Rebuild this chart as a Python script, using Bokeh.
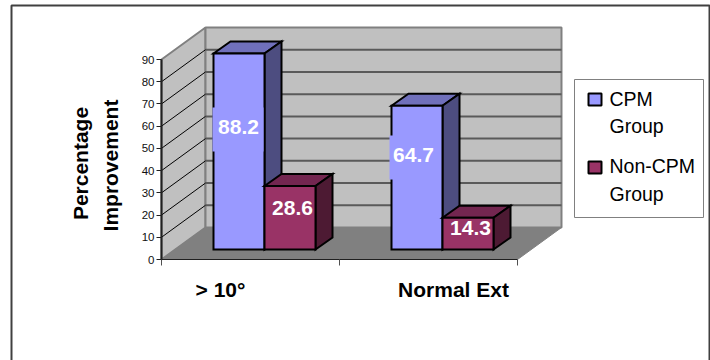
from bokeh.core.properties import value
from bokeh.embed import file_html
from bokeh.models import FixedTicker, LinearAxis, Range1d
from bokeh.plotting import figure
from bokeh.resources import INLINE
import math

categories = ["> 10°", "Normal Ext"]
series_names = ["CPM Group", "Non-CPM Group"]
cpm_values = [88.2, 64.7]
non_cpm_values = [28.6, 14.3]
y_ticks = [0, 10, 20, 30, 40, 50, 60, 70, 80, 90]

# Screen scale: one category is 178 px wide, one percent is 200/90 px tall.
X_PX, Y_PX = 178.0, 200.0 / 90.0
ORIGIN_X, ORIGIN_Y = 161.0, 259.0
W, H = 710, 360


def sx(px):
    return (px - ORIGIN_X) / X_PX


def sy(py):
    return (ORIGIN_Y - py) / Y_PX


p = figure(width=W, height=H, output_backend="svg", toolbar_location=None,
           x_range=Range1d(sx(0), sx(W)), y_range=Range1d(sy(H), sy(0)),
           x_axis_type=None, y_axis_type=None, min_border=0,
           outline_line_color=None, background_fill_color="white",
           border_fill_color="white")
p.grid.visible = False

FONT = value("Liberation Sans")

# Outer chart border, open at the bottom edge.
p.line([sx(11), sx(11), sx(709), sx(709)], [sy(362), sy(5), sy(5), sy(362)],
       line_color="#404040", line_width=2)

# Projected box: walls and floor.
dx, dy = 44 / X_PX, 32 / Y_PX
top = y_ticks[-1]
n = len(categories)
p.patch([0, dx, dx, 0], [0, dy, top + dy, top], fill_color="#C0C0C0",
        line_color="#808080", line_width=2)
p.patch([dx, n + dx, n + dx, dx], [dy, dy, top + dy, top + dy],
        fill_color="#C0C0C0", line_color="#808080", line_width=2)
p.patch([0, n, n + dx, dx], [0, 0, dy, dy], fill_color="#808080",
        line_color="#808080", line_width=1)

grid = y_ticks[1:-1]
p.segment([dx] * len(grid), [t + dy for t in grid], [n + dx] * len(grid),
          [t + dy for t in grid], line_color="#5A5A5A", line_width=2)
p.segment([0] * len(grid), grid, [dx] * len(grid), [t + dy for t in grid],
          line_color="#000000", line_width=1)

# Bars: front face plus projected top and side.
START, BAR_W = 52 / X_PX, 51 / X_PX
bdx, bdy = 17 / X_PX, 12 / Y_PX
base = 10 / Y_PX
styles = [("#9999FF", "#7070BB", "#4D4D80"), ("#993366", "#732650", "#4D1A33")]
OUT = dict(line_color="black", line_width=2, line_join="miter")

for g in range(n):
    for s, vals in enumerate([cpm_values, non_cpm_values]):
        front, upper, side = styles[s]
        x0 = g + START + s * BAR_W
        x1 = x0 + BAR_W
        y1 = vals[g] + base
        p.patch([x0, x0 + bdx, x1 + bdx, x1], [y1, y1 + bdy, y1 + bdy, y1],
                fill_color=upper, **OUT)
        p.patch([x1, x1 + bdx, x1 + bdx, x1], [base, base + bdy, y1 + bdy, y1],
                fill_color=side, **OUT)
        p.quad(left=x0, right=x1, bottom=base, top=y1, fill_color=front, **OUT)

# Value labels sit on a patch of the bar colour.
label_centres = [(238, 126, 212, 263, 107, 151), (413, 154, 389, 440, 135, 179)]
for (cx, cy, l, r, t, b), v in zip(label_centres, cpm_values):
    p.quad(left=sx(l), right=sx(r), top=sy(t), bottom=sy(b),
           fill_color="#9999FF", line_color=None)
    p.text([sx(cx)], [sy(cy)], text=[f"{v}"], text_color="white",
           text_font=FONT, text_font_style="bold", text_font_size="21px",
           text_align="center", text_baseline="middle")
for (cx, cy), v in zip([(292, 207), (470, 227)], non_cpm_values):
    p.text([sx(cx)], [sy(cy)], text=[f"{v}"], text_color="white",
           text_font=FONT, text_font_style="bold", text_font_size="21px",
           text_align="center", text_baseline="middle")

# Value axis on the front-left edge.
yaxis = LinearAxis(fixed_location=0, ticker=FixedTicker(ticks=y_ticks),
                   bounds=(0, top), axis_line_color="#202020", axis_line_width=2,
                   major_tick_line_color="#202020", major_tick_line_width=1,
                   major_tick_in=0, major_tick_out=5, minor_tick_line_color=None,
                   major_label_text_font="Liberation Sans",
                   major_label_text_font_size="11.5px",
                   major_label_text_color="#101010", major_label_standoff=2)
p.add_layout(yaxis, "left")

# Category axis: a line with ticks at the category boundaries; its names are drawn below.
xaxis = LinearAxis(fixed_location=0, ticker=FixedTicker(ticks=list(range(n + 1))),
                   bounds=(0, n), axis_line_color="#202020", axis_line_width=1,
                   major_tick_line_color="#505050", major_tick_line_width=1,
                   major_tick_in=0, major_tick_out=6, minor_tick_line_color=None,
                   major_label_overrides={i: "" for i in range(n + 1)})
p.add_layout(xaxis, "below")

for px, name in zip([220, 453], categories):
    p.text([sx(px)], [sy(289)], text=[name], text_color="black", text_font=FONT,
           text_font_style="bold", text_font_size="21px", text_align="center",
           text_baseline="middle")

# Axis title on two rotated lines.
for px, line, py in [(80, "Percentage", 163), (110, "Improvement", 165)]:
    p.text([sx(px)], [sy(py)], text=[line], angle=math.pi / 2, text_color="black",
           text_font=FONT, text_font_style="bold", text_font_size="21px",
           text_align="center", text_baseline="middle")

# Legend box.
p.quad(left=sx(574), right=sx(703), top=sy(79), bottom=sy(217), fill_color="white",
       line_color="#808080", line_width=1)
for (sw_top, colour), lines, ys in zip(
        [(93, styles[0][0]), (161, styles[1][0])],
        [("CPM", "Group"), ("Non-CPM", "Group")],
        [(98, 125), (165, 193)]):
    p.quad(left=sx(588), right=sx(601), top=sy(sw_top), bottom=sy(sw_top + 12),
           fill_color=colour, line_color="black", line_width=2)
    for line, py in zip(lines, ys):
        p.text([sx(609)], [sy(py)], text=[line], text_color="black", text_font=FONT,
               text_font_size="19.5px", text_align="left", text_baseline="middle")

open("out.html", "w").write(file_html(p, INLINE))
